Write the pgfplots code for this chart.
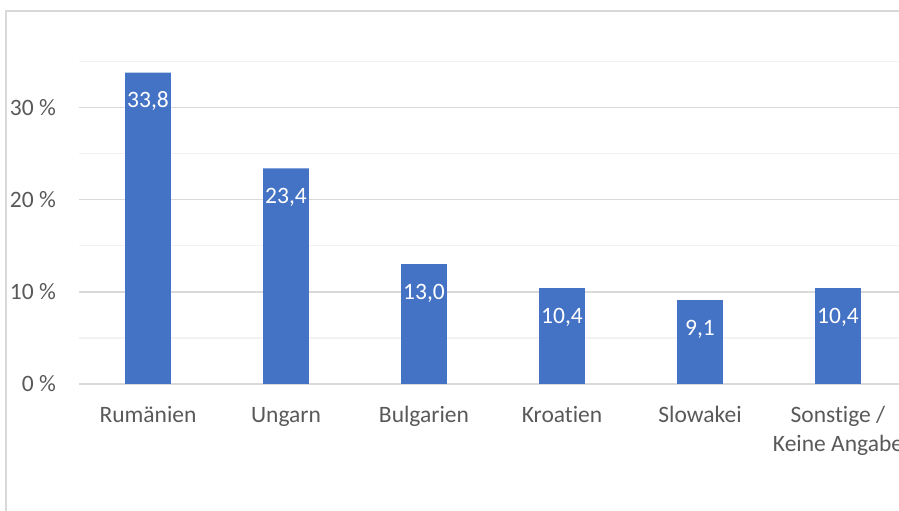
\documentclass[border=0pt]{standalone}
\usepackage{pgfplots}
\pgfplotsset{compat=1.18}
\usepackage{fontspec}
\setmainfont{Carlito}[Ligatures=NoCommon]
\definecolor{barblue}{HTML}{4472C4}
\definecolor{gridmajor}{HTML}{D9D9D9}
\definecolor{gridminor}{HTML}{F2F2F2}
\definecolor{labelgray}{HTML}{595959}
\begin{document}
\fontsize{23.5}{29}\selectfont
\begin{tikzpicture}[x=1pt,y=1pt]
\path[use as bounding box, clip] (0,0) rectangle (899,511);
% chart frame
\draw[gridmajor, line width=1.3pt] (6,-20) -- (6,500) -- (930,500);
\begin{axis}[
  at={(79pt,127pt)}, anchor=south west,
  scale only axis, width=828pt, height=322.5pt,
  xmin=-0.5, xmax=5.5, ymin=0, ymax=35,
  ybar, bar width=0.333,
  axis line style={draw=none},
  major tick length=0pt, minor tick length=0pt,
  ytick={0,10,20,30}, minor ytick={5,15,25,35},
  ymajorgrids, yminorgrids,
  major grid style={gridmajor, line width=1.3pt},
  minor grid style={gridminor, line width=1.3pt},
  /pgf/number format/assume math mode=true,
  yticklabel={\pgfmathprintnumber{\tick}~\%},
  yticklabel style={anchor=east, inner sep=0pt, xshift=-23pt, text=labelgray,
    font=\fontsize{23.5}{29}\selectfont},
  xtick={0,1,2,3,4,5},
  xticklabels={Rumänien, Ungarn, Bulgarien, Kroatien, Slowakei,
    {\begin{tabular}[t]{@{}c@{}}Sonstige /\\Keine Angabe\end{tabular}}},
  xticklabel style={anchor=base, inner sep=0pt, yshift=-39pt, text=labelgray,
    font=\fontsize{23.5}{29}\selectfont},
  nodes near coords={\pgfmathprintnumber[fixed, fixed zerofill, precision=1, use comma]{\pgfplotspointmeta}},
  every node near coord/.append style={anchor=base, yshift=-35pt, text=white,
    font=\fontsize{23.5}{29}\selectfont},
]
\addplot[fill=barblue, draw=none] coordinates
  {(0,33.8) (1,23.4) (2,13.0) (3,10.4) (4,9.1) (5,10.4)};
\end{axis}
\end{tikzpicture}
\end{document}
